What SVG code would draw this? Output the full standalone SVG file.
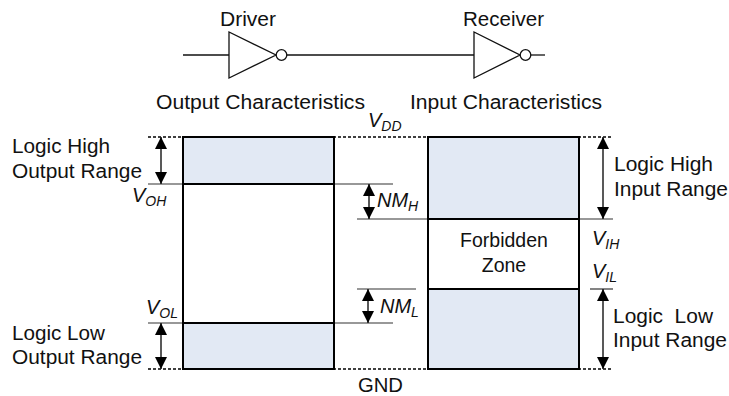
<svg xmlns="http://www.w3.org/2000/svg" width="729" height="396" viewBox="0 0 729 396">
<style>
text{font-family:"Liberation Sans",Arial,sans-serif;font-size:19.5px;fill:#111}
.it{font-style:italic;font-size:20px}
.sub{font-size:14px}
.box{fill:none;stroke:#000;stroke-width:2}
.shade{fill:#E2E9F4;stroke:none}
.div{stroke:#000;stroke-width:2}
.guide{stroke:#333;stroke-width:1.2;fill:none}
.dot{stroke:#000;stroke-width:1.5;stroke-dasharray:3 2}
.wire{stroke:#111;stroke-width:1.3;fill:none}
.gate{fill:#fff;stroke:#111;stroke-width:1.3}
.arr{stroke:#222;stroke-width:1.5;marker-start:url(#ah);marker-end:url(#ah)}
</style>
<defs>
<marker id="ah" viewBox="0 0 12 12" refX="12" refY="6" markerWidth="12" markerHeight="12" markerUnits="userSpaceOnUse" orient="auto-start-reverse">
<path d="M0,0 L12,6 L0,12 z" fill="#000"/>
</marker>
</defs>

<g id="connectors">
<line class="wire" x1="183" y1="55" x2="229" y2="55"/>
<line class="wire" x1="287" y1="55" x2="474" y2="55"/>
<line class="wire" x1="531" y1="55" x2="545" y2="55"/>
</g>

<g id="driver">
<text x="220" y="26" textLength="56" lengthAdjust="spacingAndGlyphs">Driver</text>
<polygon class="gate" points="229,32 229,78 276,55"/>
<circle class="gate" cx="281.5" cy="55" r="5.3"/>
</g>

<g id="receiver">
<text x="463" y="26" textLength="81" lengthAdjust="spacingAndGlyphs">Receiver</text>
<polygon class="gate" points="474,32 474,78 520,55"/>
<circle class="gate" cx="525.5" cy="55" r="5.3"/>
</g>

<g id="headings">
<text x="156" y="109" textLength="209" lengthAdjust="spacingAndGlyphs">Output Characteristics</text>
<text x="410" y="109" textLength="192" lengthAdjust="spacingAndGlyphs">Input Characteristics</text>
<text class="it" x="368" y="127">V<tspan class="sub" dy="4">DD</tspan></text>
<text x="358" y="392" textLength="45" lengthAdjust="spacingAndGlyphs">GND</text>
</g>

<g id="rails">
<line class="dot" x1="148" y1="137" x2="612" y2="137"/>
<line class="dot" x1="148" y1="369" x2="612" y2="369"/>
</g>

<g id="guides">
<line class="guide" x1="148" y1="184" x2="393" y2="184"/>
<line class="guide" x1="148" y1="323" x2="393" y2="323"/>
<line class="guide" x1="357" y1="219" x2="613" y2="219"/>
<line class="guide" x1="357" y1="289" x2="416" y2="289"/>
<line class="guide" x1="590" y1="289" x2="613" y2="289"/>
</g>

<g id="output-box">
<rect class="shade" x="183" y="137" width="151" height="47"/>
<rect class="shade" x="183" y="323" width="151" height="46"/>
<line class="div" x1="183" y1="184" x2="334" y2="184"/>
<line class="div" x1="183" y1="323" x2="334" y2="323"/>
<rect class="box" x="183" y="137" width="151" height="232"/>
</g>

<g id="input-box">
<rect class="shade" x="428" y="137" width="151" height="82"/>
<rect class="shade" x="428" y="289" width="151" height="80"/>
<line class="div" x1="428" y1="219" x2="579" y2="219"/>
<line class="div" x1="428" y1="289" x2="579" y2="289"/>
<rect class="box" x="428" y="137" width="151" height="232"/>
<text x="504" y="247" text-anchor="middle">Forbidden</text>
<text x="504" y="272" text-anchor="middle">Zone</text>
</g>

<g id="arrows">
<line class="arr" x1="161" y1="137" x2="161" y2="184"/>
<line class="arr" x1="161" y1="323" x2="161" y2="369"/>
<line class="arr" x1="369" y1="184" x2="369" y2="219"/>
<line class="arr" x1="368" y1="289" x2="368" y2="323"/>
<line class="arr" x1="603" y1="137" x2="603" y2="219"/>
<line class="arr" x1="603" y1="289" x2="603" y2="369"/>
</g>

<g id="labels">
<text x="12" y="153" textLength="98" lengthAdjust="spacingAndGlyphs">Logic High</text>
<text x="12" y="178" textLength="130" lengthAdjust="spacingAndGlyphs">Output Range</text>
<text x="12" y="340" textLength="93" lengthAdjust="spacingAndGlyphs">Logic Low</text>
<text x="12" y="364" textLength="130" lengthAdjust="spacingAndGlyphs">Output Range</text>
<text x="614" y="171" textLength="99" lengthAdjust="spacingAndGlyphs">Logic High</text>
<text x="614" y="196" textLength="114" lengthAdjust="spacingAndGlyphs">Input Range</text>
<text x="613" y="323" xml:space="preserve" textLength="100" lengthAdjust="spacingAndGlyphs">Logic  Low</text>
<text x="613" y="347" textLength="114" lengthAdjust="spacingAndGlyphs">Input Range</text>
<text class="it" x="132" y="202">V<tspan class="sub" dy="4">OH</tspan></text>
<text class="it" x="146" y="314">V<tspan class="sub" dy="4">OL</tspan></text>
<text class="it" x="592" y="245">V<tspan class="sub" dy="4">IH</tspan></text>
<text class="it" x="592" y="278">V<tspan class="sub" dy="4">IL</tspan></text>
<text class="it" x="377" y="207">NM<tspan class="sub" dy="4">H</tspan></text>
<text class="it" x="380" y="313">NM<tspan class="sub" dy="4">L</tspan></text>
</g>
</svg>
